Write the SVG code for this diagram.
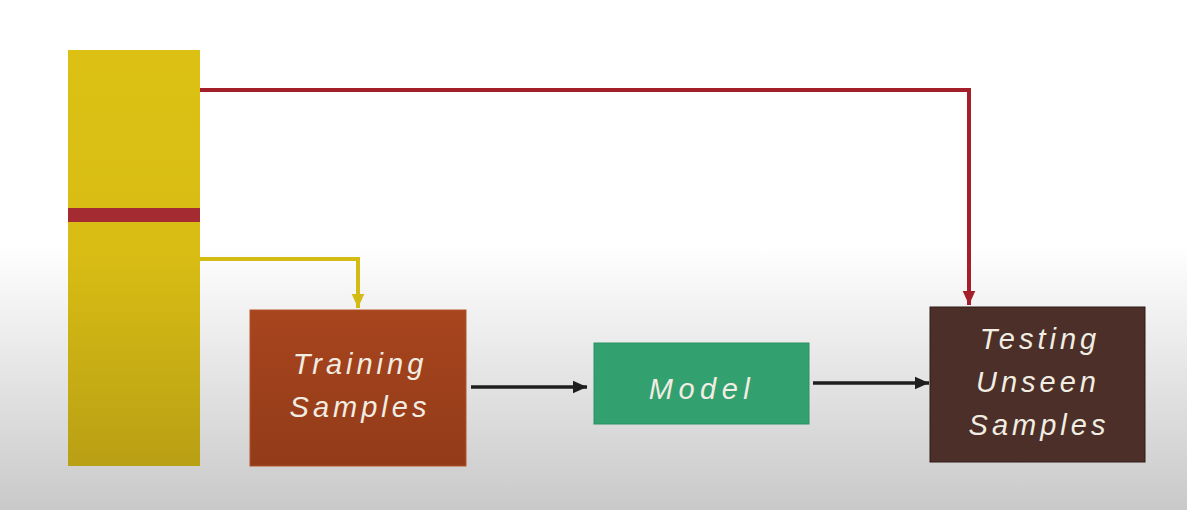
<svg xmlns="http://www.w3.org/2000/svg" width="1187" height="510" viewBox="0 0 1187 510">
  <defs>
    <linearGradient id="bg" x1="0" y1="0" x2="0" y2="1">
      <stop offset="0" stop-color="#ffffff"/>
      <stop offset="0.48" stop-color="#ffffff"/>
      <stop offset="1" stop-color="#c9c9c9"/>
    </linearGradient>
    <linearGradient id="yel" x1="0" y1="0" x2="0" y2="1">
      <stop offset="0" stop-color="#dcc114"/>
      <stop offset="0.5" stop-color="#d8bc14"/>
      <stop offset="1" stop-color="#b9a014"/>
    </linearGradient>
    <linearGradient id="trn" x1="0" y1="0" x2="0" y2="1">
      <stop offset="0" stop-color="#a7451e"/>
      <stop offset="1" stop-color="#933b19"/>
    </linearGradient>
    <marker id="ahBlack" viewBox="0 0 10 10" refX="10" refY="5" markerWidth="14" markerHeight="14" markerUnits="userSpaceOnUse" orient="auto">
      <path d="M0,0.5 L10,5 L0,9.5 Z" fill="#1e1e1e"/>
    </marker>
    <marker id="ahRed" viewBox="0 0 10 10" refX="10" refY="5" markerWidth="14" markerHeight="14" markerUnits="userSpaceOnUse" orient="auto">
      <path d="M0,0.5 L10,5 L0,9.5 Z" fill="#a3202a"/>
    </marker>
    <marker id="ahYel" viewBox="0 0 10 10" refX="10" refY="5" markerWidth="14" markerHeight="14" markerUnits="userSpaceOnUse" orient="auto">
      <path d="M0,0.5 L10,5 L0,9.5 Z" fill="#d4bb14"/>
    </marker>
  </defs>
  <style>
    .lbl { font-family: "Liberation Sans", Arial, sans-serif; font-style: italic; font-size: 29px; fill: #f1ede2; text-anchor: middle; letter-spacing: 4px; }
    .conn { fill: none; stroke-linejoin: miter; }
  </style>
  <rect x="0" y="0" width="1187" height="510" fill="url(#bg)"/>

  <g id="dataset">
    <rect x="68" y="50" width="132" height="416" fill="url(#yel)"/>
    <rect x="68" y="208" width="132" height="14" fill="#a52b32"/>
  </g>

  <g id="connectors">
    <polyline class="conn" points="200,90 969,90 969,305" stroke="#a3202a" stroke-width="4" marker-end="url(#ahRed)"/>
    <polyline class="conn" points="200,259 358,259 358,308" stroke="#d4bb14" stroke-width="4" marker-end="url(#ahYel)"/>
    <line x1="471" y1="387" x2="587" y2="387" stroke="#1e1e1e" stroke-width="3.5" marker-end="url(#ahBlack)"/>
    <line x1="813" y1="383" x2="929" y2="383" stroke="#1e1e1e" stroke-width="3.5" marker-end="url(#ahBlack)"/>
  </g>

  <g id="training">
    <rect x="250" y="310" width="216" height="156" fill="url(#trn)" stroke="#b3552a" stroke-width="1"/>
    <text class="lbl" x="360" y="374">Training</text>
    <text class="lbl" x="360" y="417">Samples</text>
  </g>

  <g id="model">
    <rect x="594" y="343" width="215" height="81" fill="#33a070" stroke="#2a9164" stroke-width="1"/>
    <text class="lbl" x="702" y="399" style="letter-spacing:5.5px">Model</text>
  </g>

  <g id="testing">
    <rect x="930" y="307" width="215" height="155" fill="#4b2f28" stroke="#2e1b16" stroke-width="1"/>
    <text class="lbl" x="1040" y="349">Testing</text>
    <text class="lbl" x="1038" y="392">Unseen</text>
    <text class="lbl" x="1039" y="435">Samples</text>
  </g>
</svg>
